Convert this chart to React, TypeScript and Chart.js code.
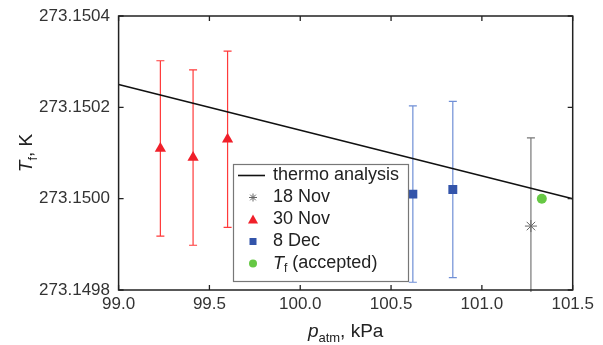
import React, { useEffect, useRef } from "react";
import { Chart, registerables } from "chart.js";

Chart.register(...registerables);

// ---- data ----
const xTicks = [99.0, 99.5, 100.0, 100.5, 101.0, 101.5];
const yTicks = [273.1498, 273.15, 273.1502, 273.1504];

const thermoP = [99.0, 101.5];
const thermoT = [273.15025, 273.15];

const nov18P = [101.27];
const nov18T = [273.14994];
const nov18Err = [0.000193];

const nov30P = [99.23, 99.41, 99.6];
const nov30T = [273.15011, 273.15009, 273.15013];
const nov30Err = [0.000192, 0.000192, 0.000193];

const dec8P = [100.62, 100.84];
const dec8T = [273.15001, 273.15002];
const dec8Err = [0.000193, 0.000193];

const acceptedP = [101.33];
const acceptedT = [273.15];

const FONT = '"Liberation Sans", Arial, Helvetica, sans-serif';
const AXIS = "#222";
const RED = "#f0202a";
const BLUE = "#3354aa";
const BLUE_BAR = "#6f8fd6";
const GREEN = "#66c844";
const GREY = "#666";

const pts = (xs: number[], ys: number[]) => xs.map((x, i) => ({ x, y: ys[i] }));

type Seg = { text: string; italic?: boolean; sub?: boolean };

function drawRich(ctx: CanvasRenderingContext2D, segs: Seg[], x: number, y: number, size: number, subSize: number, align: "left" | "center") {
  const fontOf = (s: Seg) => `${s.italic ? "italic " : ""}${s.sub ? subSize : size}px ${FONT}`;
  let total = 0;
  const widths = segs.map((s) => {
    ctx.font = fontOf(s);
    const w = ctx.measureText(s.text).width;
    total += w;
    return w;
  });
  let cx = align === "center" ? x - total / 2 : x;
  segs.forEach((s, i) => {
    ctx.font = fontOf(s);
    ctx.fillText(s.text, cx, s.sub ? y + size * 0.28 : y);
    cx += widths[i];
  });
}

const decorPlugin = {
  id: "decor",
  beforeDatasetsDraw(chart: any) {
    const ctx = chart.ctx as CanvasRenderingContext2D;
    const xs = chart.scales.x;
    const ys = chart.scales.y;
    const area = chart.chartArea;
    ctx.save();
    chart.data.datasets.forEach((ds: any) => {
      if (!ds.errors) return;
      ctx.strokeStyle = ds.errorColor;
      ctx.lineWidth = 1.2;
      ds.data.forEach((p: any, i: number) => {
        const e = ds.errors[i];
        const px = xs.getPixelForValue(p.x);
        const yTop = ys.getPixelForValue(p.y + e);
        const yBot = ys.getPixelForValue(p.y - e);
        const t = Math.max(yTop, area.top - 2);
        const b = Math.min(yBot, area.bottom + 2);
        ctx.beginPath();
        ctx.moveTo(px, t);
        ctx.lineTo(px, b);
        if (yTop >= area.top) {
          ctx.moveTo(px - 4, yTop);
          ctx.lineTo(px + 4, yTop);
        }
        if (yBot <= area.bottom) {
          ctx.moveTo(px - 4, yBot);
          ctx.lineTo(px + 4, yBot);
        }
        ctx.stroke();
      });
    });
    ctx.restore();
  },
  afterDraw(chart: any) {
    const ctx = chart.ctx as CanvasRenderingContext2D;
    const xs = chart.scales.x;
    const ys = chart.scales.y;
    const a = chart.chartArea;
    ctx.save();
    // frame
    ctx.strokeStyle = AXIS;
    ctx.lineWidth = 1.5;
    ctx.strokeRect(a.left, a.top, a.right - a.left, a.bottom - a.top);
    // inward ticks
    ctx.lineWidth = 1.3;
    ctx.beginPath();
    xTicks.forEach((v) => {
      const px = xs.getPixelForValue(v);
      ctx.moveTo(px, a.bottom);
      ctx.lineTo(px, a.bottom - 5);
      ctx.moveTo(px, a.top);
      ctx.lineTo(px, a.top + 5);
    });
    yTicks.forEach((v) => {
      const py = ys.getPixelForValue(v);
      ctx.moveTo(a.left, py);
      ctx.lineTo(a.left + 5, py);
      ctx.moveTo(a.right, py);
      ctx.lineTo(a.right - 5, py);
    });
    ctx.stroke();

    // axis titles
    ctx.fillStyle = "#222";
    ctx.textBaseline = "alphabetic";
    drawRich(ctx, [{ text: "p", italic: true }, { text: "atm", sub: true }, { text: ", kPa" }], (a.left + a.right) / 2, 336.5, 19, 13, "center");
    ctx.save();
    ctx.translate(32, (a.top + a.bottom) / 2);
    ctx.rotate(-Math.PI / 2);
    drawRich(ctx, [{ text: "T", italic: true }, { text: "f", sub: true }, { text: ", K" }], 0, 0, 19, 13, "center");
    ctx.restore();

    // legend
    const lx = 233.5, ly = 164.5, lw = 175, lh = 117;
    ctx.fillStyle = "#fff";
    ctx.fillRect(lx, ly, lw, lh);
    ctx.strokeStyle = "#777";
    ctx.lineWidth = 1.2;
    ctx.strokeRect(lx, ly, lw, lh);
    const rowY = (i: number) => 175.5 + i * 22;
    const mx = 253;
    const tx = 273;
    // row 0 line
    ctx.strokeStyle = "#111";
    ctx.lineWidth = 1.6;
    ctx.beginPath();
    ctx.moveTo(238, rowY(0));
    ctx.lineTo(265, rowY(0));
    ctx.stroke();
    // row 1 star
    ctx.strokeStyle = GREY;
    ctx.lineWidth = 1;
    ctx.beginPath();
    const r = 4;
    for (let k = 0; k < 4; k++) {
      const ang = (k * Math.PI) / 4;
      ctx.moveTo(mx - r * Math.cos(ang), rowY(1) - r * Math.sin(ang));
      ctx.lineTo(mx + r * Math.cos(ang), rowY(1) + r * Math.sin(ang));
    }
    ctx.stroke();
    // row 2 triangle
    ctx.fillStyle = RED;
    ctx.beginPath();
    ctx.moveTo(mx, rowY(2) - 5);
    ctx.lineTo(mx + 5, rowY(2) + 4);
    ctx.lineTo(mx - 5, rowY(2) + 4);
    ctx.closePath();
    ctx.fill();
    // row 3 square
    ctx.fillStyle = BLUE;
    ctx.fillRect(mx - 3.5, rowY(3) - 3.5, 7, 7);
    // row 4 circle
    ctx.fillStyle = GREEN;
    ctx.beginPath();
    ctx.arc(mx, rowY(4), 4, 0, Math.PI * 2);
    ctx.fill();

    ctx.fillStyle = "#222";
    ctx.textBaseline = "middle";
    ctx.textAlign = "left";
    const labels = ["thermo analysis", "18 Nov", "30 Nov", "8 Dec"];
    labels.forEach((t, i) => drawRich(ctx, [{ text: t }], tx, rowY(i), 18, 12, "left"));
    drawRich(ctx, [{ text: "T", italic: true }, { text: "f", sub: true }, { text: " (accepted)" }], tx, rowY(4), 18, 12, "left");
    ctx.restore();
  },
};

export default function App() {
  const ref = useRef<HTMLCanvasElement | null>(null);
  useEffect(() => {
    if (!ref.current) return;
    const chart = new Chart(ref.current, {
      type: "scatter",
      data: {
        datasets: [
          {
            type: "line",
            label: "thermo analysis",
            data: pts(thermoP, thermoT),
            borderColor: "#111",
            borderWidth: 1.6,
            pointRadius: 0,
            showLine: true,
            fill: false,
          } as any,
          {
            label: "18 Nov",
            data: pts(nov18P, nov18T),
            errors: nov18Err,
            errorColor: "#777",
            pointStyle: "star",
            pointRadius: 6,
            borderColor: GREY,
            backgroundColor: GREY,
            borderWidth: 1,
          } as any,
          {
            label: "30 Nov",
            data: pts(nov30P, nov30T),
            errors: nov30Err,
            errorColor: "#ff3a3a",
            pointStyle: "triangle",
            pointRadius: 6.5,
            borderWidth: 0,
            backgroundColor: RED,
            borderColor: RED,
          } as any,
          {
            label: "8 Dec",
            data: pts(dec8P, dec8T),
            errors: dec8Err,
            errorColor: BLUE_BAR,
            pointStyle: "rect",
            pointRadius: 6.3,
            borderWidth: 0,
            backgroundColor: BLUE,
            borderColor: BLUE,
          } as any,
          {
            label: "Tf (accepted)",
            data: pts(acceptedP, acceptedT),
            pointStyle: "circle",
            pointRadius: 5,
            borderWidth: 0,
            backgroundColor: GREEN,
            borderColor: GREEN,
          } as any,
        ],
      },
      options: {
        responsive: false,
        animation: false,
        devicePixelRatio: 1,
        layout: { padding: { left: 0, top: 16, right: 30.3, bottom: 0 } },
        plugins: { legend: { display: false }, tooltip: { enabled: false } },
        scales: {
          x: {
            type: "linear",
            min: 99.0,
            max: 101.5,
            grid: { display: false, drawTicks: false },
            border: { display: false },
            ticks: {
              font: { family: FONT, size: 17 },
              color: "#333",
              padding: 4,
              maxRotation: 0,
              autoSkip: false,
              callback: (v: any) => Number(v).toFixed(1),
            },
            afterBuildTicks: (s: any) => {
              s.ticks = xTicks.map((value) => ({ value }));
            },
            afterFit: (s: any) => {
              s.height = 55;
              s.paddingLeft = 0;
              s.paddingRight = 0;
            },
          },
          y: {
            type: "linear",
            min: 273.1498,
            max: 273.1504,
            grid: { display: false, drawTicks: false },
            border: { display: false },
            ticks: {
              font: { family: FONT, size: 17 },
              color: "#333",
              padding: 8.6,
              autoSkip: false,
              callback: (v: any) => Number(v).toFixed(4),
            },
            afterBuildTicks: (s: any) => {
              s.ticks = yTicks.map((value) => ({ value }));
            },
            afterFit: (s: any) => {
              s.width = 118.6;
              s.paddingTop = 0;
              s.paddingBottom = 0;
            },
          },
        },
      } as any,
      plugins: [decorPlugin as any],
    });
    return () => chart.destroy();
  }, []);
  return (
    <div style={{ position: "absolute", left: 0, top: 0, width: 603, height: 345, background: "#fff" }}>
      <canvas ref={ref} width={603} height={345} />
    </div>
  );
}
